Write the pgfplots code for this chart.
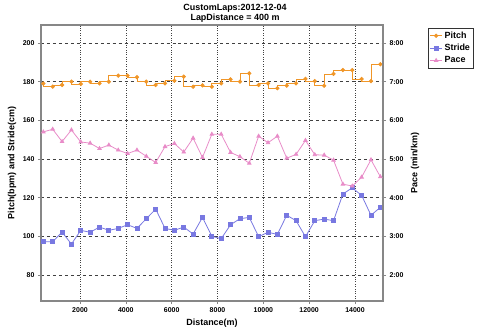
\documentclass[border=0pt]{standalone}
\usepackage{pgfplots}
\usepackage{pgfplotstable}
\pgfplotsset{compat=1.18}
\usepackage{fontspec}
\setmainfont{Liberation Sans}
\definecolor{pitchc}{RGB}{240,150,40}
\definecolor{stridec}{RGB}{120,120,225}
\definecolor{pacec}{RGB}{232,140,200}
\definecolor{framec}{RGB}{135,135,135}

\pgfplotstableread{
d pitch stride pace
400 179.0 97.2 5.70
808 177.4 97.2 5.77
1217 178.3 102.2 5.45
1625 180.0 96.0 5.75
2034 178.8 103.1 5.44
2442 180.0 102.1 5.41
2851 179.1 104.8 5.27
3259 180.0 103.1 5.36
3668 183.1 104.1 5.23
4076 183.1 106.0 5.14
4485 182.3 104.1 5.23
4893 180.0 109.1 5.07
5302 178.3 114.1 4.91
5710 179.1 104.1 5.32
6119 180.5 103.1 5.40
6527 182.6 104.8 5.18
6936 177.4 101.2 5.54
7344 178.1 109.8 5.04
7753 177.4 100.0 5.64
8161 179.1 98.8 5.64
8570 181.2 106.0 5.17
8978 180.0 109.1 5.06
9387 184.3 109.8 4.89
9795 178.3 99.8 5.59
10204 179.1 102.1 5.42
10612 176.6 101.0 5.59
11021 177.9 110.9 5.02
11429 179.1 108.1 5.12
11838 181.4 99.8 5.48
12246 180.3 108.1 5.11
12655 177.9 108.9 5.10
13063 184.0 108.1 4.97
13472 186.0 121.9 4.35
13880 186.0 125.1 4.30
14289 181.4 121.2 4.53
14697 180.3 110.9 4.98
15106 189.0 115.0 4.54
}\datatable

\pgfplotsset{
  common/.style={
    scale only axis,
    width=342bp, height=276bp,
    xmin=298, xmax=15222,
    ticklabel style={font=\bfseries\fontsize{7}{8}\selectfont},
    /pgf/number format/assume math mode=true,
    /pgf/number format/1000 sep={},
    scaled x ticks=false,
    tick align=outside,
    major tick length=3bp,
    tick style={framec, line width=0.6pt},
    axis line style={framec, line width=1.2pt},
    label style={font=\bfseries\fontsize{9}{10}\selectfont},
  }
}

\begin{document}
\begin{tikzpicture}[x=1bp,y=1bp]
\useasboundingbox (-41,-28) rectangle (439,301);
\node[font=\bfseries\fontsize{9}{10}\selectfont, align=center] at (194,288) {CustomLaps:2012-12-04\\LapDistance = 400 m};
\begin{axis}[common,
  ymin=66.55, ymax=209.3,
  xtick={2000,4000,...,14000}, ytick={80,100,...,200},
  xtick pos=bottom, ytick pos=left,
  xmajorgrids, ymajorgrids,
  major x grid style={black!75, dotted, line width=0.6pt},
  major y grid style={black!75, dashed, line width=0.6pt},
  xlabel={Distance(m)},
  ylabel={Pitch(bpm) and Stride(cm)},
  xlabel style={at={(0.5,-0.0786)}, anchor=center},
  ylabel style={at={(-0.0848,0.5)}, anchor=center},
  legend style={at={(1.1316,0.989)}, anchor=north west, draw=black!80, line width=0.5pt,
    font=\bfseries\fontsize{9}{10}\selectfont, inner sep=1.5pt, row sep=0.5pt,
    legend cell align=left},
  legend image code/.code={%
    \draw[mark repeat=2,mark phase=2] plot coordinates {(0bp,0bp)(6bp,0bp)(12bp,0bp)};},
  legend image post style={line width=0.8pt},
]
\addplot[const plot mark right, pitchc, line width=0.8pt, mark=*, mark size=1.7pt] table[x=d,y=pitch]{\datatable};
\addlegendentry{Pitch}
\addplot[stridec, line width=0.8pt, mark=square*, mark size=2pt] table[x=d,y=stride]{\datatable};
\addlegendentry{Stride}
\addlegendimage{pacec, line width=0.8pt, mark=triangle*, mark size=2pt}
\addlegendentry{Pace}
\end{axis}
\begin{axis}[common,
  ymin=1.3275, ymax=8.465,
  axis y line*=right, axis x line=none,
  ytick={2,3,4,5,6,7,8},
  yticklabels={2:00,3:00,4:00,5:00,6:00,7:00,8:00},
  ylabel={Pace (min/km)},
  ylabel style={at={(1.0936,0.5)}, anchor=center},
]
\addplot[pacec, line width=0.8pt, mark=triangle*, mark size=2pt] table[x=d,y=pace]{\datatable};
\end{axis}
\end{tikzpicture}
\end{document}
